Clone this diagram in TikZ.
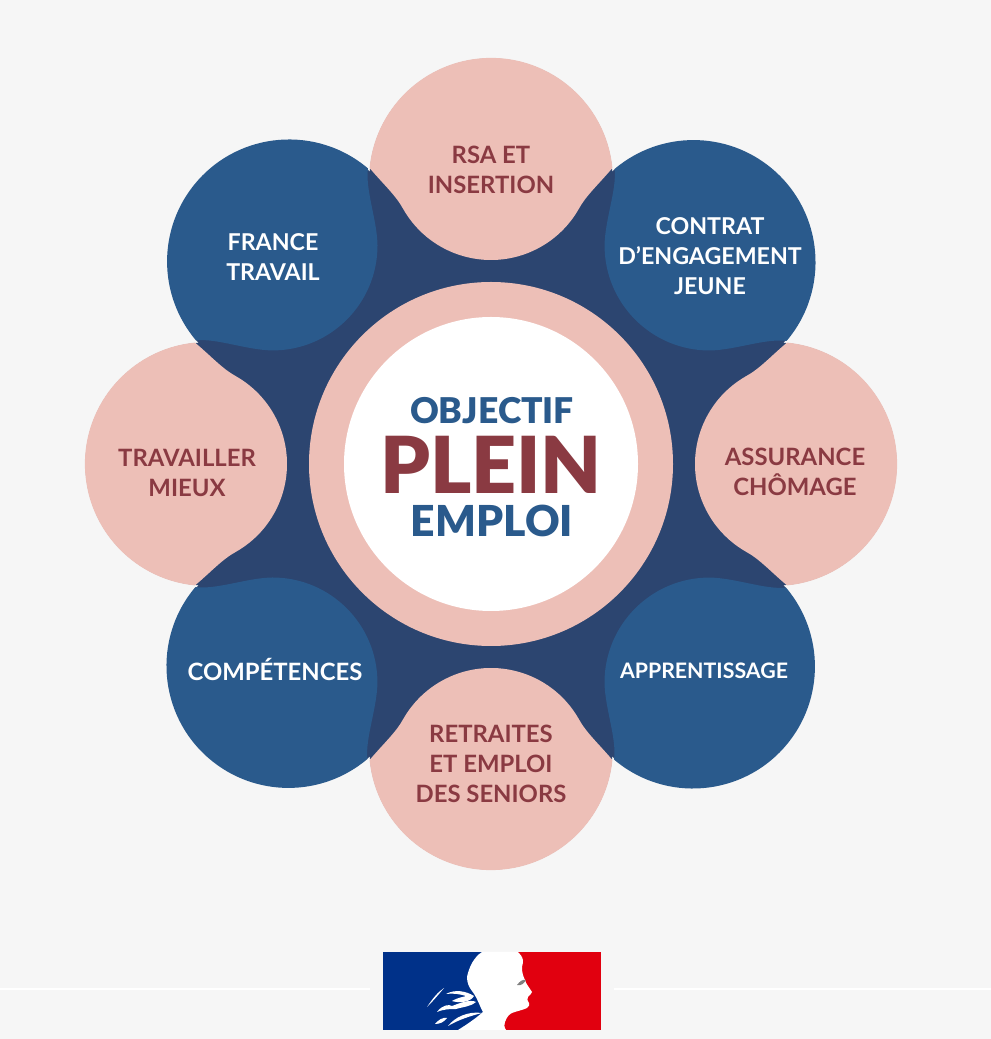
\documentclass[tikz,border=0pt]{standalone}
\usepackage{fontspec}
\usepackage{xcolor}
\setmainfont{Lato}
\newfontfamily\heavyfont{Lato Black}
\definecolor{pagebg}{HTML}{F6F6F6}
\definecolor{darkblue}{HTML}{2C4570}
\definecolor{midblue}{HTML}{2A5A8C}
\definecolor{rosefill}{HTML}{EDBFB7}
\definecolor{maroon}{HTML}{8A3A42}
\definecolor{flagblue}{HTML}{003189}
\definecolor{flagred}{HTML}{E1000F}
\tikzset{
  petaltext/.style={inner sep=0pt, align=center, font=\fontsize{17.9}{22.5}\selectfont\bfseries},
  rosetext/.style={petaltext, text=maroon},
  bluetext/.style={petaltext, text=white, font=\fontsize{17.4}{22.5}\selectfont\bfseries},
  hairfill/.style={fill=white},
}
\begin{document}
\begin{tikzpicture}[x=0.75pt, y=0.75pt]
  \useasboundingbox (0,0) rectangle (991,1039);
  \fill[pagebg] (0,0) rectangle (991,1039);
  \begin{scope}[shift={(491,575)}]
    % dark base
    \fill[darkblue] (0,0) circle (230);
    \foreach \ang in {0,45,...,315} {
      \fill[darkblue] (\ang+90:284) circle (121.5);
    }
    % blue petals
    \foreach \ang in {45,135,225,315} {
      \fill[midblue, rotate=\ang] (122,296) arc (4.7:175.3:122)
        .. controls (-105,283) and (-92,253) .. (-74.2,234.8)
        arc (225:315:105)
        .. controls (92,253) and (105,283) .. (122,296) -- cycle;
    }
    % rose petals
    \foreach \ang in {0,90,180,270} {
      \fill[rosefill, rotate=\ang] (121.4,296) arc (5.6:174.4:122)
        .. controls (-107,279) and (-95,268.5) .. (-87.5,254.5)
        arc (210:330:101)
        .. controls (95,268.5) and (107,279) .. (121.4,296) -- cycle;
    }
    % centre
    \fill[rosefill] (0,0) circle (182);
    \fill[white] (0,0) circle (147);
  \end{scope}
  % petal labels
  \node[rosetext] (rsa) at (491,869) {RSA ET\\INSERTION};
  \node[bluetext] (contrat) at (710,783) {CONTRAT\\D’ENGAGEMENT\\JEUNE};
  \node[rosetext] (assurance) at (795,567) {ASSURANCE\\CHÔMAGE};
  \node[bluetext, font=\fontsize{16}{20}\selectfont\bfseries] (apprentissage) at (704,368) {APPRENTISSAGE};
  \node[rosetext] (retraites) at (491,275) {RETRAITES\\ET EMPLOI\\DES SENIORS};
  \node[bluetext, font=\fontsize{17.9}{22}\selectfont\bfseries] (competences) at (275,370) {COMPÉTENCES};
  \node[rosetext] (travailler) at (187,566) {TRAVAILLER\\MIEUX};
  \node[bluetext] (france) at (273,782) {FRANCE\\TRAVAIL};
  % centre labels
  \node[inner sep=0pt, text=midblue, font=\fontsize{26.6}{26.6}\selectfont\heavyfont] (objectif) at (492,628) {OBJECTIF};
  \node[inner sep=0pt, text=maroon, font=\fontsize{59}{59}\selectfont\heavyfont] (plein) at (491,574) {PLEIN};
  \node[inner sep=0pt, text=midblue, font=\fontsize{32}{32}\selectfont\heavyfont] (emploi) at (492,518) {EMPLOI};
  % logo
  \fill[white] (0,49) rectangle (370,51);
  \fill[white] (614,49) rectangle (991,51);
  \fill[flagblue] (383,9) rectangle (520,87);
  \fill[flagred] (500,9) rectangle (601,87);
  \fill[white] (482,87) .. controls (474,82) and (469,72) .. (467,62)
    .. controls (467,56) and (469,52) .. (472,48)
    .. controls (477,42) and (480,32) .. (483,27)
    .. controls (475,20) and (466,14) .. (458,9) -- (506,9)
    .. controls (504,12) and (504,15) .. (505,17)
    .. controls (507,23) and (510,25) .. (512,26)
    .. controls (517,28) and (523,29) .. (527,31)
    .. controls (529,33) and (530,34) .. (529,36)
    .. controls (527,38) and (527,40) .. (528,42)
    .. controls (530,44) and (532,46) .. (532,47)
    .. controls (529,52) and (526,55) .. (525,59)
    .. controls (523,63) and (522,67) .. (522,71)
    .. controls (522,75) and (524,77) .. (523,79)
    .. controls (522,83) and (520,85) .. (518,87) -- cycle;
  % hair strands
  \fill[hairfill] (427,32) .. controls (433,41) and (438,47) .. (444,51)
    .. controls (439,45) and (434,39) .. (427,32) -- cycle;
  \fill[hairfill] (446,45) .. controls (455,50) and (466,48) .. (474,43)
    .. controls (470,36) and (458,36) .. (452,38)
    .. controls (459,42) and (464,42) .. (466,43)
    .. controls (460,45) and (452,46) .. (446,45) -- cycle;
  \fill[hairfill] (437,27) .. controls (442,34) and (449,35) .. (452,33)
    .. controls (460,36) and (470,40) .. (476,37)
    .. controls (470,32) and (462,32) .. (456,30)
    .. controls (450,30) and (444,30) .. (437,27) -- cycle;
  \fill[hairfill] (435,15) .. controls (438,19) and (443,22) .. (447,21)
    .. controls (444,17) and (440,15) .. (435,15) -- cycle;
  \fill[hairfill] (448,13) .. controls (455,22) and (468,28) .. (482,26)
    .. controls (470,23) and (458,19) .. (448,13) -- cycle;
  \fill[gray] (517,54) .. controls (520,58) and (523,60) .. (526,59)
    .. controls (524,56) and (522,53) .. (517,54) -- cycle;
\end{tikzpicture}
\end{document}
